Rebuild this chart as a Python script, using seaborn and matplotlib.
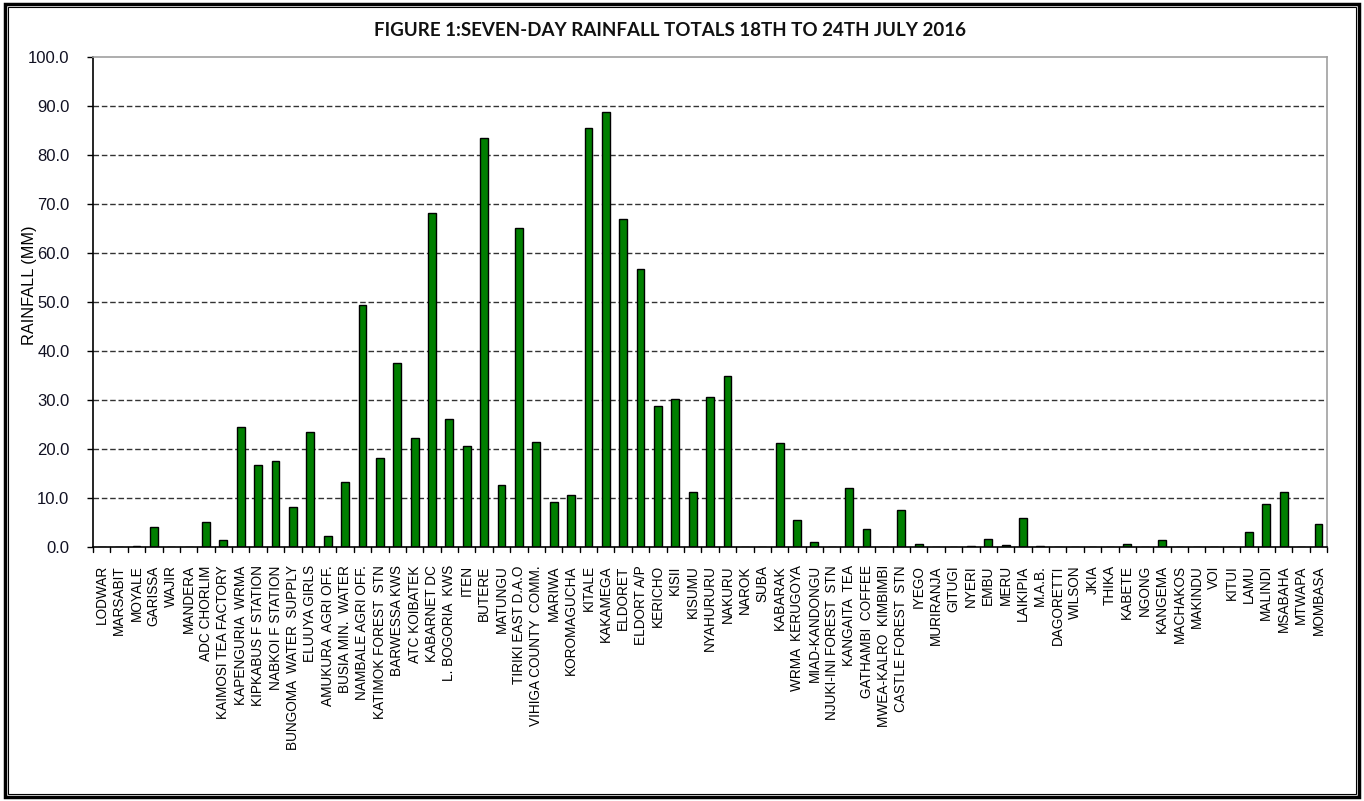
import numpy as np
import pandas as pd
import seaborn as sns
import matplotlib.pyplot as plt
from matplotlib.patches import Rectangle

# Stations and seven-day rainfall totals (mm)
stations = [
    "LODWAR", "MARSABIT", "MOYALE", "GARISSA", "WAJIR", "MANDERA",
    "ADC CHORLIM", "KAIMOSI TEA FACTORY", "KAPENGURIA  WRMA", "KIPKABUS F STATION",
    "NABKOI F STATION", "BUNGOMA  WATER  SUPPLY", "ELUUYA GIRLS", "AMUKURA  AGRI OFF.",
    "BUSIA MIN.  WATER", "NAMBALE AGRI OFF.", "KATIMOK FOREST  STN", "BARWESSA KWS",
    "ATC KOIBATEK", "KABARNET DC", "L. BOGORIA  KWS", "ITEN", "BUTERE", "MATUNGU",
    "TIRIKI EAST D.A.O", "VIHIGA COUNTY  COMM.", "MARIWA", "KOROMAGUCHA", "KITALE",
    "KAKAMEGA", "ELDORET", "ELDORT A/P", "KERICHO", "KISII", "KISUMU", "NYAHURURU",
    "NAKURU", "NAROK", "SUBA", "KABARAK", "WRMA  KERUGOYA", "MIAD-KANDONGU",
    "NJUKI-INI FOREST  STN", "KANGAITA  TEA", "GATHAMBI  COFFEE", "MWEA-KALRO  KIMBIMBI",
    "CASTLE FOREST  STN", "IYEGO", "MURIRANJA", "GITUGI", "NYERI", "EMBU", "MERU",
    "LAIKIPIA", "M.A.B.", "DAGORETTI", "WILSON", "JKIA", "THIKA", "KABETE", "NGONG",
    "KANGEMA", "MACHAKOS", "MAKINDU", "VOI", "KITUI", "LAMU", "MALINDI", "MSABAHA",
    "MTWAPA", "MOMBASA",
]
rainfall = [
    0.0, 0.0, 0.3, 4.0, 0.0, 0.0,
    5.2, 1.5, 24.5, 16.7,
    17.6, 8.2, 23.4, 2.2,
    13.3, 49.3, 18.2, 37.6,
    22.2, 68.2, 26.1, 20.6, 83.4, 12.7,
    65.1, 21.5, 9.1, 10.6, 85.4,
    88.8, 66.9, 56.7, 28.8, 30.3, 11.2, 30.6,
    34.8, 0.0, 0.0, 21.2, 5.5, 1.0,
    0.0, 12.1, 3.6, 0.0,
    7.6, 0.6, 0.0, 0.0, 0.3, 1.6, 0.4,
    6.0, 0.3, 0.0, 0.0, 0.0, 0.0, 0.6, 0.0,
    1.5, 0.0, 0.0, 0.0, 0.0, 3.0, 8.8, 11.2,
    0.0, 4.8,
]
yticks = np.arange(0, 101, 10)

df = pd.DataFrame({"station": stations, "rainfall": rainfall})

sns.set_theme(style="white")
plt.rcParams["font.family"] = ["Liberation Sans", "DejaVu Sans"]
plt.rcParams["ytick.left"] = True
plt.rcParams["ytick.major.size"] = 4
plt.rcParams["ytick.major.width"] = 1
plt.rcParams["ytick.major.pad"] = 13
plt.rcParams["ytick.color"] = "black"
plt.rcParams["ytick.direction"] = "out"

fig = plt.figure(figsize=(13.64, 8.01), dpi=100)
ax = fig.add_axes([0.0682, 0.317, 0.9048, 0.612])

sns.barplot(data=df, x="station", y="rainfall", color="#007f00",
            saturation=1, edgecolor="black", linewidth=1.0, width=0.45, ax=ax)

ax.set_xlim(-0.5, len(stations) - 0.5)
ax.set_ylim(0, 100)
ax.set_yticks(yticks)
ax.set_yticklabels([f"{v:.1f}" for v in yticks], fontsize=12, color="#111122")
ax.set_xticks(np.arange(len(stations)))
ax.set_xticklabels(stations, rotation=90, fontsize=9.8, color="black")
ax.tick_params(axis="x", length=0, pad=13)
ax.tick_params(axis="y", left=True, length=4, width=1, pad=13)

# category boundary ticks on the x axis
for b in np.arange(-0.5, len(stations), 1.0):
    ax.plot([b, b], [0, -1.0], color="black", lw=1, clip_on=False)

for v in yticks[1:-1]:
    ax.axhline(v, color="#333333", lw=1, ls=(0, (4, 2)), zorder=0)

for side in ["left", "bottom"]:
    ax.spines[side].set_color("black")
    ax.spines[side].set_linewidth(1.2)
for side in ["top", "right"]:
    ax.spines[side].set_color("#a0a0a0")
    ax.spines[side].set_linewidth(1.2)

ax.set_xlabel("")
ax.set_ylabel("RAINFALL (MM)", fontsize=11.7, color="black")
ax.yaxis.set_label_coords(-0.045, 0.535)

fig.text(0.491, 0.962, "FIGURE 1:SEVEN-DAY RAINFALL TOTALS 18TH TO 24TH JULY 2016",
         ha="center", va="center", fontsize=13.5, fontweight="bold",
         family=["Lato", "DejaVu Sans"], color="#111111")

# double frame around the whole chart
W, H = 1364, 801
fig.patches.append(Rectangle((5 / W, 4 / H), 1354 / W, 793 / H, transform=fig.transFigure,
                             fill=False, edgecolor="black", lw=2.5))
fig.patches.append(Rectangle((8 / W, 7 / H), 1348 / W, 787 / H, transform=fig.transFigure,
                             fill=False, edgecolor="black", lw=0.8))

fig.savefig("out.png", dpi=100)
